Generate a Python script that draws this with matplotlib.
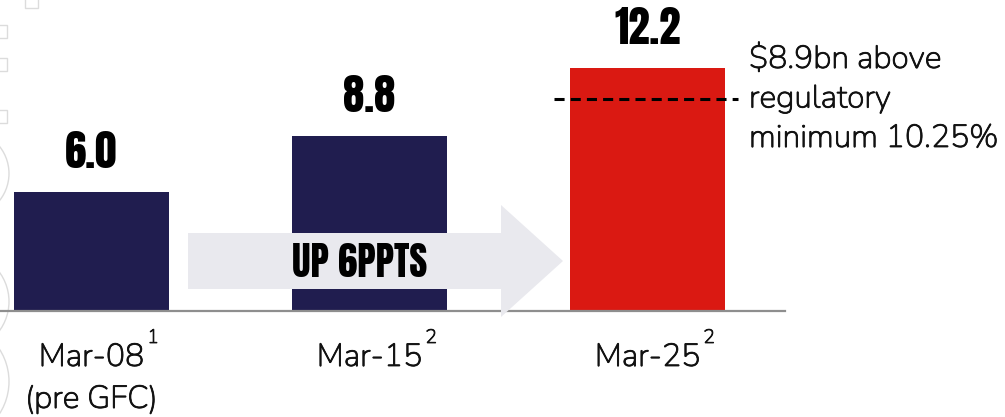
import matplotlib
matplotlib.use("Agg")
import matplotlib.pyplot as plt
from matplotlib import font_manager as fm
from matplotlib import patheffects as pe
from matplotlib.patches import Polygon, Circle, Rectangle

# ---------------- data ----------------
categories = ["Mar-08", "Mar-15", "Mar-25"]
sub_labels = ["(pre GFC)", "", ""]
footnotes = ["1", "2", "2"]
values = [6.0, 8.8, 12.2]
value_labels = ["6.0", "8.8", "12.2"]
bar_colors = ["#201D4F", "#201D4F", "#DA1912"]
reg_min_level = 10.66          # drawn position of the regulatory-minimum dashed line
annot_lines = ["$8.9bn above", "regulatory", "minimum 10.25%"]
arrow_text = "UP 6PPTS"

# ---------------- fonts ----------------
def wnum(w):
    if isinstance(w, (int, float)):
        return float(w)
    return float(fm.weight_dict.get(str(w), 400))

def find_font(families, weight, fallback_weight="normal"):
    for fam in families:
        cands = [f for f in fm.fontManager.ttflist
                 if f.name == fam and f.style == "normal"]
        if not cands:
            continue
        static = [f for f in cands if "[" not in f.fname]
        pool = static or cands
        best = min(pool, key=lambda f: abs(wnum(f.weight) - weight))
        return fm.FontProperties(fname=best.fname)
    return fm.FontProperties(family="DejaVu Sans", weight=fallback_weight)

bold_fp = find_font(["Anton", "Barlow Condensed", "Oswald", "Bebas Neue"], 800, "bold")
reg_fp = find_font(["Nunito", "Nunito Sans", "Noto Sans"], 400)

def fp(base, size):
    p = base.copy()
    p.set_size(size)
    return p

txt_col = "#111111"
thick = [pe.withStroke(linewidth=0.6, foreground=txt_col)]

W, H, DPI = 1005, 417, 100
fig = plt.figure(figsize=(W / DPI, H / DPI), dpi=DPI)

# pixel geometry of the plotting area
base_px = 311
px_per_unit = 19.88
x0_px = 91.5
step_px = 278
right_px = 785

def px2x(px):
    return (px - x0_px) / step_px

def py2y(py):
    return (base_px - py) / px_per_unit

# decorative background overlay (pixel coords)
deco = fig.add_axes([0, 0, 1, 1], zorder=0)
deco.set_xlim(0, W)
deco.set_ylim(H, 0)
deco.axis("off")
dc = "#DCDCDC"
for (cx, cy, r) in [(-34.5, 173.5, 43.5), (-40.6, 301.5, 49.6), (-50.6, 381.5, 59.6)]:
    deco.add_patch(Circle((cx, cy), r, fill=False, ec=dc, lw=1.0))
for y in [25, 58, 110]:
    deco.add_patch(Rectangle((-3, y), 10, 13, fill=False, ec=dc, lw=1.0))
deco.add_patch(Rectangle((25, -6), 13, 14, fill=False, ec=dc, lw=1.0))

ax = fig.add_axes([0, (H - base_px) / H, right_px / W, base_px / H], zorder=1)
ax.patch.set_alpha(0)
ax.set_xlim(px2x(0), px2x(right_px))
ax.set_ylim(0, base_px / px_per_unit)

x = list(range(len(categories)))
bars = ax.bar(x, values, width=155 / step_px, color=bar_colors, zorder=2)

for s in ["top", "right", "left"]:
    ax.spines[s].set_visible(False)
ax.spines["bottom"].set_color("#8E8E8E")
ax.spines["bottom"].set_linewidth(1.6)
ax.set_yticks([])
ax.set_xticks([])

# value labels
for xi, v, lab in zip(x, values, value_labels):
    ax.annotate(lab, (xi, v), xytext=(0, 17.3), textcoords="offset points",
                ha="center", va="baseline", fontproperties=fp(bold_fp, 31),
                color="black", zorder=5)

# category labels + footnote superscripts
label_texts = []
for xi, cat, sub in zip(x, categories, sub_labels):
    t = ax.annotate(cat, (xi, 0), xytext=(0, -39.6), textcoords="offset points",
                    ha="center", va="baseline", fontproperties=fp(reg_fp, 23),
                    color=txt_col, annotation_clip=False, path_effects=thick)
    label_texts.append(t)
    if sub:
        ax.annotate(sub, (xi, 0), xytext=(0, -69.8), textcoords="offset points",
                    ha="center", va="baseline", fontproperties=fp(reg_fp, 23),
                    color=txt_col, annotation_clip=False, path_effects=thick)

fig.canvas.draw()
renderer = fig.canvas.get_renderer()
for t, fn in zip(label_texts, footnotes):
    bb = t.get_window_extent(renderer)
    fig.text((bb.x1 + 3) / W, (H - 343) / H, fn, ha="left", va="baseline",
             fontproperties=fp(reg_fp, 14), color=txt_col, path_effects=thick)

# arrow
arrow_c = "#E9E9EE"
body_l, body_r, body_t, body_b = 188, 501, 233, 289
head_t, head_b, tip_x, tip_y = 205, 317, 563, 261
pts_px = [(body_l, body_t), (body_r, body_t), (body_r, head_t), (tip_x, tip_y),
          (body_r, head_b), (body_r, body_b), (body_l, body_b)]
arrow = Polygon([(px2x(a), py2y(b)) for a, b in pts_px], closed=True,
                fc=arrow_c, ec="none", zorder=3, clip_on=False)
ax.add_patch(arrow)
ax.text(px2x(360), py2y(277), arrow_text, ha="center", va="baseline",
        fontproperties=fp(bold_fp, 28), color="black", zorder=4)

# regulatory minimum dashed line
ax.plot([px2x(554), px2x(738)], [reg_min_level, reg_min_level], color="black",
        lw=2.2, dashes=(3.3, 2.0), dash_capstyle="butt", zorder=4, clip_on=False)

# annotation
for i, line in enumerate(annot_lines):
    fig.text(749 / W, (H - (68 + 39.5 * i)) / H, line, ha="left", va="baseline",
             fontproperties=fp(reg_fp, 23), color=txt_col, path_effects=thick)

fig.savefig("out.png", dpi=DPI)
